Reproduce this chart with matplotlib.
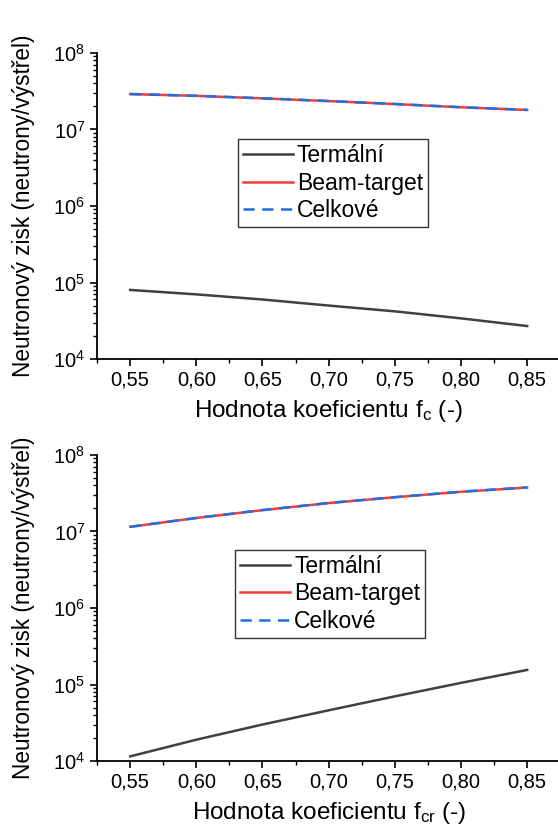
import matplotlib
matplotlib.use("Agg")
import matplotlib.pyplot as plt
from matplotlib.ticker import LogLocator, NullFormatter, FixedLocator

plt.rcParams['font.family'] = ['Liberation Sans', 'DejaVu Sans']
plt.rcParams['mathtext.fontset'] = 'custom'
plt.rcParams['mathtext.rm'] = 'Liberation Sans'
plt.rcParams['mathtext.it'] = 'Liberation Sans'

# koeficient values
f_vals = [0.55, 0.60, 0.65, 0.70, 0.75, 0.80, 0.85]

# top panel (f_c)
thermal_c = [8.0e4, 7.0e4, 6.0e4, 5.0e4, 4.2e4, 3.4e4, 2.7e4]
beam_c = [2.9e7, 2.75e7, 2.55e7, 2.35e7, 2.15e7, 1.95e7, 1.8e7]
total_c = [t + b for t, b in zip(thermal_c, beam_c)]

# bottom panel (f_cr)
thermal_cr = [1.15e4, 1.9e4, 3.0e4, 4.6e4, 7.0e4, 1.05e5, 1.55e5]
beam_cr = [1.15e7, 1.5e7, 1.9e7, 2.35e7, 2.8e7, 3.3e7, 3.75e7]
total_cr = [t + b for t, b in zip(thermal_cr, beam_cr)]

xticks = [0.55, 0.60, 0.65, 0.70, 0.75, 0.80, 0.85]
xticklabels = ["0,55", "0,60", "0,65", "0,70", "0,75", "0,80", "0,85"]
labels = ["Termální", "Beam-target", "Celkové"]

fig = plt.figure(figsize=(5.58, 8.34), dpi=100)
ax1 = fig.add_axes([0.174, 0.5695, 0.83, 0.367])
ax2 = fig.add_axes([0.174, 0.0875, 0.83, 0.367])

def draw(ax, thermal, beam, total, xlabel, leg_pos):
    ax.plot(f_vals, thermal, color="#404040", lw=1.8, label=labels[0])
    ax.plot(f_vals, beam, color="#f03c3c", lw=1.8, label=labels[1])
    ax.plot(f_vals, total, color="#1f6fe0", lw=1.8, ls=(0, (4.5, 3)), label=labels[2])
    ax.set_yscale("log")
    ax.set_ylim(1e4, 1e8)
    ax.set_xlim(0.525, 0.875)
    ax.set_xticks(xticks)
    ax.set_xticklabels(xticklabels)
    ax.xaxis.set_minor_locator(FixedLocator([0.525 + 0.05 * i for i in range(8)]))
    ax.yaxis.set_major_locator(LogLocator(base=10, numticks=10))
    ax.yaxis.set_minor_locator(LogLocator(base=10, subs=range(2, 10), numticks=50))
    ax.yaxis.set_minor_formatter(NullFormatter())
    for s in ["top", "right"]:
        ax.spines[s].set_visible(False)
    ax.spines["left"].set_linewidth(1.3)
    ax.spines["bottom"].set_linewidth(1.3)
    ax.tick_params(which="major", direction="out", length=5, width=1.2, labelsize=14.5)
    ax.tick_params(which="minor", direction="out", length=3, width=1.0)
    ax.set_xlabel(xlabel, fontsize=17.5, labelpad=6)
    ax.set_ylabel("Neutronový zisk (neutrony/výstřel)", fontsize=16.3, labelpad=13)
    leg = ax.legend(loc="center", bbox_to_anchor=leg_pos, fontsize=16.5, frameon=True,
                    fancybox=False, edgecolor="black", handlelength=2.2,
                    handletextpad=0.17, borderpad=0.2, labelspacing=0.2, borderaxespad=0)
    leg.get_frame().set_linewidth(1.0)

draw(ax1, thermal_c, beam_c, total_c, "Hodnota koeficientu f$_\\mathregular{c}$ (-)", (0.509, 0.575))
draw(ax2, thermal_cr, beam_cr, total_cr, "Hodnota koeficientu f$_\\mathregular{cr}$ (-)", (0.503, 0.546))

fig.savefig("out.png", dpi=100)
